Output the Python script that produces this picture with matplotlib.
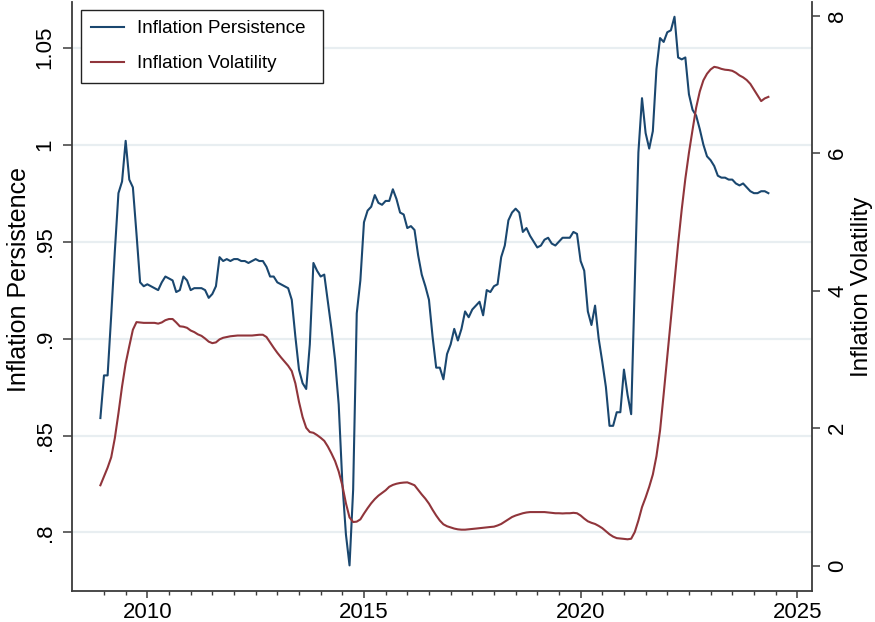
import numpy as np
import pandas as pd
import matplotlib
matplotlib.use('Agg')
import matplotlib.pyplot as plt
from matplotlib.ticker import FixedLocator

plt.rcParams['font.family'] = ['Liberation Sans', 'DejaVu Sans']

# monthly observations, 2008m12 - 2024m5
months = pd.period_range('2008-12', '2024-05', freq='M')
years = months.year + (months.month - 1) / 12.0

persistence = [
    0.859, 0.881, 0.881, 0.912, 0.945, 0.975, 0.981, 1.002, 0.982, 0.978,
    0.954, 0.929, 0.927, 0.928, 0.927, 0.926, 0.925, 0.929, 0.932, 0.931,
    0.930, 0.924, 0.925, 0.932, 0.930, 0.925, 0.926, 0.926, 0.926, 0.925,
    0.921, 0.923, 0.927, 0.942, 0.940, 0.941, 0.940, 0.941, 0.941, 0.940,
    0.940, 0.939, 0.940, 0.941, 0.940, 0.940, 0.937, 0.932, 0.932, 0.929,
    0.928, 0.927, 0.926, 0.920, 0.901, 0.884, 0.877, 0.874, 0.897, 0.939,
    0.935, 0.932, 0.933, 0.919, 0.905, 0.889, 0.866, 0.826, 0.799, 0.783,
    0.822, 0.913, 0.930, 0.960, 0.966, 0.968, 0.974, 0.970, 0.969, 0.971,
    0.971, 0.977, 0.972, 0.965, 0.964, 0.957, 0.958, 0.956, 0.943, 0.933,
    0.927, 0.920, 0.901, 0.885, 0.885, 0.879, 0.892, 0.897, 0.905, 0.899,
    0.905, 0.914, 0.911, 0.915, 0.917, 0.919, 0.912, 0.925, 0.924, 0.927,
    0.928, 0.942, 0.948, 0.961, 0.965, 0.967, 0.965, 0.955, 0.957, 0.953,
    0.950, 0.947, 0.948, 0.951, 0.952, 0.949, 0.948, 0.950, 0.952, 0.952,
    0.952, 0.955, 0.954, 0.940, 0.935, 0.914, 0.907, 0.917, 0.900, 0.888,
    0.875, 0.855, 0.855, 0.862, 0.862, 0.884, 0.871, 0.861, 0.929, 0.996,
    1.024, 1.006, 0.998, 1.007, 1.039, 1.055, 1.053, 1.058, 1.059, 1.066,
    1.045, 1.044, 1.045, 1.026, 1.018, 1.015, 1.008, 1.000, 0.994, 0.992,
    0.989, 0.984, 0.983, 0.983, 0.982, 0.982, 0.980, 0.979, 0.980, 0.978,
    0.976, 0.975, 0.975, 0.976, 0.976, 0.975,
]

volatility = [
    1.170, 1.298, 1.426, 1.577, 1.855, 2.217, 2.607, 2.942, 3.192, 3.432,
    3.543, 3.538, 3.532, 3.532, 3.532, 3.532, 3.521, 3.538, 3.571, 3.588,
    3.588, 3.538, 3.482, 3.476, 3.460, 3.421, 3.398, 3.365, 3.343, 3.304,
    3.259, 3.237, 3.248, 3.292, 3.315, 3.326, 3.337, 3.343, 3.348, 3.348,
    3.348, 3.348, 3.348, 3.354, 3.359, 3.359, 3.326, 3.248, 3.170, 3.097,
    3.031, 2.969, 2.908, 2.830, 2.652, 2.384, 2.162, 2.006, 1.944, 1.933,
    1.900, 1.861, 1.816, 1.733, 1.632, 1.521, 1.370, 1.170, 0.908, 0.702,
    0.635, 0.641, 0.674, 0.758, 0.836, 0.908, 0.969, 1.019, 1.058, 1.097,
    1.148, 1.175, 1.192, 1.203, 1.209, 1.212, 1.192, 1.170, 1.103, 1.036,
    0.975, 0.903, 0.813, 0.730, 0.657, 0.602, 0.574, 0.557, 0.540, 0.529,
    0.524, 0.524, 0.529, 0.535, 0.540, 0.546, 0.552, 0.557, 0.563, 0.568,
    0.585, 0.607, 0.641, 0.674, 0.708, 0.730, 0.747, 0.763, 0.774, 0.780,
    0.780, 0.780, 0.780, 0.780, 0.774, 0.769, 0.763, 0.763, 0.760, 0.763,
    0.763, 0.769, 0.763, 0.730, 0.685, 0.646, 0.624, 0.607, 0.579, 0.546,
    0.501, 0.457, 0.423, 0.401, 0.396, 0.390, 0.384, 0.392, 0.490, 0.657,
    0.852, 0.992, 1.148, 1.326, 1.593, 1.967, 2.496, 3.042, 3.582, 4.139,
    4.680, 5.181, 5.627, 6.006, 6.340, 6.663, 6.897, 7.060, 7.155, 7.218,
    7.256, 7.245, 7.226, 7.214, 7.209, 7.198, 7.170, 7.131, 7.103, 7.064,
    7.008, 6.925, 6.841, 6.758, 6.797, 6.819,
]

left_ticks = [0.8, 0.85, 0.9, 0.95, 1.0, 1.05]
left_labels = ['.8', '.85', '.9', '.95', '1', '1.05']
right_ticks = [0, 2, 4, 6, 8]
year_ticks = [2010, 2015, 2020, 2025]

NAVY = '#1a476f'
MAROON = '#90353b'
GRID = '#e8eef1'
AXCOL = '#3c3c3c'

W, H = 875, 622
X0, X1, Y0, Y1 = 71.5, 812.0, 2.0, 591.0   # plot region, pixels from top-left
fig = plt.figure(figsize=(W / 100, H / 100), dpi=100)
ax = fig.add_axes([X0 / W, 1 - Y1 / H, (X1 - X0) / W, (Y1 - Y0) / H])
ax2 = ax.twinx()


def ax_frac(px, py):
    return (px - X0) / (X1 - X0), (Y1 - py) / (Y1 - Y0)


ax.plot(years, persistence, color=NAVY, lw=1.5, label='Inflation Persistence', zorder=3)
ax2.plot(years, volatility, color=MAROON, lw=1.5, label='Inflation Volatility', zorder=3)

ax.set_xlim(2008.25, 2025.34)
ax.set_ylim(0.7698, 1.0736)
ax2.set_ylim(-0.368, 8.199)

ax.set_yticks(left_ticks)
ax.set_yticklabels(left_labels, rotation=90, va='center')
ax2.set_yticks(right_ticks)
ax2.set_yticklabels([str(t) for t in right_ticks], rotation=90, va='center')
ax.set_xticks(year_ticks)
ax.xaxis.set_minor_locator(FixedLocator(np.arange(2009, 2025, 0.5)))

ax.grid(axis='y', color=GRID, lw=1.6, zorder=0)
ax.set_axisbelow(True)

for a in (ax, ax2):
    a.spines['top'].set_visible(False)
    for s in a.spines.values():
        s.set_color(AXCOL)
        s.set_linewidth(1.3)
ax.spines['right'].set_visible(False)
ax2.spines['left'].set_visible(False)
ax2.spines['bottom'].set_visible(False)

ax.tick_params(axis='y', length=6.5, width=1.1, color=AXCOL, labelsize=16, pad=5)
ax2.tick_params(axis='y', length=6, width=1.1, color=AXCOL, labelsize=16, pad=5)
ax.tick_params(axis='x', which='major', length=4.7, width=1.1, color=AXCOL, labelsize=16, pad=3)
ax.tick_params(axis='x', which='minor', length=2.9, width=1.0, color=AXCOL)

ax.set_ylabel('Inflation Persistence', fontsize=18, va='center')
ax.yaxis.set_label_coords(*ax_frac(19, 279))
ax2.set_ylabel('Inflation Volatility', fontsize=17.5, rotation=90, va='center')
ax2.yaxis.set_label_coords(*ax_frac(862, 287))

h1, l1 = ax.get_legend_handles_labels()
h2, l2 = ax2.get_legend_handles_labels()
lx, ly = ax_frac(80.7, 10)
rx, _ = ax_frac(323, 10)
leg = ax2.legend(h1 + h2, l1 + l2, loc='upper left', mode='expand',
                 bbox_to_anchor=(lx, 0.5, rx - lx, ly - 0.5), borderaxespad=0,
                 fontsize=13.5, frameon=True, fancybox=False, framealpha=1,
                 edgecolor='#222222', handlelength=1.75, handletextpad=0.7,
                 labelspacing=0.95, borderpad=0.55)
leg.get_frame().set_linewidth(1.0)

fig.savefig('out.png', dpi=100, facecolor='white')
